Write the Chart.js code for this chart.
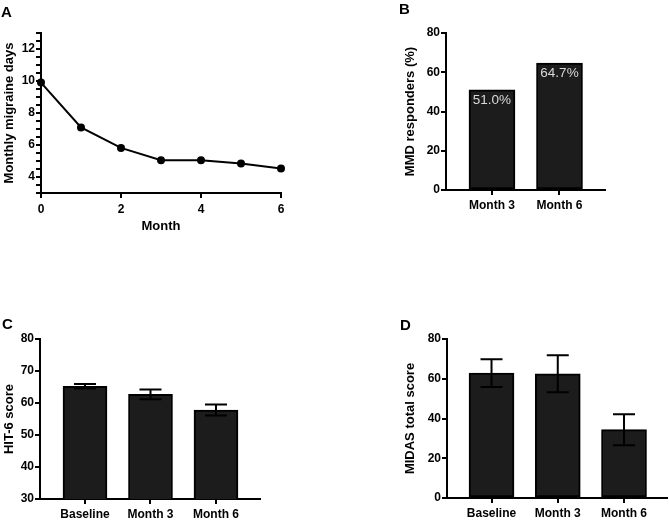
<!DOCTYPE html>
<html>
<head>
<meta charset="utf-8">
<script src="https://cdn.jsdelivr.net/npm/chart.js@4.4.1/dist/chart.umd.min.js"></script>
<style>
  body { margin: 0; background: #fff; }
  #wrap { position: relative; width: 669px; height: 523px; overflow: hidden; }
  canvas { position: absolute; left: 0; top: 0; }
  .tag { position: absolute; font: bold 15px 'Liberation Sans', Arial, sans-serif; line-height: 15px; color: #000; }
</style>
</head>
<body>
<div id="wrap">
  <canvas id="chartA" width="669" height="523"></canvas>
  <canvas id="chartB" width="669" height="523"></canvas>
  <canvas id="chartC" width="669" height="523"></canvas>
  <canvas id="chartD" width="669" height="523"></canvas>
  <div class="tag" style="left:1px;top:4px">A</div>
  <div class="tag" style="left:399px;top:1px">B</div>
  <div class="tag" style="left:2px;top:316px">C</div>
  <div class="tag" style="left:400px;top:317px">D</div>
</div>
<script>
// A - monthly migraine days
const months = [0, 1, 2, 3, 4, 5, 6];
const mmdValues = [9.9, 7.1, 5.82, 5.05, 5.05, 4.85, 4.53];
const aXTicks = [0, 2, 4, 6];
const aYTicks = [4, 6, 8, 10, 12];

// B - responders
const respCategories = ['Month 3', 'Month 6'];
const respValues = [51.0, 64.7];
const respTicks = [0, 20, 40, 60, 80];

// C - HIT-6
const hitCategories = ['Baseline', 'Month 3', 'Month 6'];
const hitValues = [65.2, 62.7, 57.8];
const hitErrors = [0.7, 1.5, 1.7];
const hitTicks = [30, 40, 50, 60, 70, 80];

// D - MIDAS
const midasCategories = ['Baseline', 'Month 3', 'Month 6'];
const midasValues = [62.8, 62.5, 34.4];
const midasErrors = [7.0, 9.3, 7.8];
const midasTicks = [0, 20, 40, 60, 80];

Chart.defaults.font.family = "'Liberation Sans', Arial, sans-serif";
Chart.defaults.font.size = 12;
Chart.defaults.font.weight = 'bold';
Chart.defaults.color = '#000';

const titleFont = { size: 13, weight: 'bold' };

function axisStyle() {
    return {
        grid: { display: true, drawOnChartArea: false, drawTicks: true, tickLength: 5, color: '#000', lineWidth: 2, offset: false },
        border: { display: true, color: '#000', width: 2 }
    };
}

function fixedTicks(values) {
    return function(scale) {
        scale.ticks = values.map(v => ({ value: v }));
    };
}

// error bars drawn from the dataset values through the y scale
const errorBarPlugin = {
    id: 'errorBars',
    afterDatasetsDraw(chart, args, opts) {
        if (!opts.errors) return;
        const ctx = chart.ctx;
        const y = chart.scales.y;
        const meta = chart.getDatasetMeta(0);
        const vals = chart.data.datasets[0].data;
        ctx.save();
        ctx.strokeStyle = '#000';
        ctx.lineWidth = 2;
        meta.data.forEach((bar, i) => {
            const v = vals[i].y;
            const e = opts.errors[i];
            const top = y.getPixelForValue(v + e);
            const bot = y.getPixelForValue(v - e);
            ctx.beginPath();
            ctx.moveTo(bar.x, top);
            ctx.lineTo(bar.x, bot);
            ctx.moveTo(bar.x - 11, top);
            ctx.lineTo(bar.x + 11, top);
            ctx.moveTo(bar.x - 11, bot);
            ctx.lineTo(bar.x + 11, bot);
            ctx.stroke();
        });
        ctx.restore();
    }
};

const valueLabelPlugin = {
    id: 'valueLabels',
    afterDatasetsDraw(chart, args, opts) {
        if (!opts.show) return;
        const ctx = chart.ctx;
        const meta = chart.getDatasetMeta(0);
        ctx.save();
        ctx.font = "13.5px 'Liberation Sans', Arial, sans-serif";
        ctx.fillStyle = '#d9d9d9';
        ctx.textAlign = 'center';
        ctx.textBaseline = 'top';
        meta.data.forEach((bar, i) => {
            ctx.fillText(respValues[i].toFixed(1) + '%', bar.x, bar.y + 4);
        });
        ctx.restore();
    }
};

Chart.register(errorBarPlugin, valueLabelPlugin);

// Panel A
new Chart(document.getElementById('chartA'), {
    type: 'line',
    data: {
        datasets: [{
            data: months.map((m, i) => ({ x: m, y: mmdValues[i] })),
            borderColor: '#000',
            backgroundColor: '#000',
            borderWidth: 2,
            pointRadius: 4,
            pointBorderWidth: 0,
            tension: 0,
            clip: false
        }]
    },
    options: {
        responsive: false,
        animation: false,
        events: [],
        layout: { padding: { left: 0, top: 33, right: 388, bottom: 285 } },
        plugins: { legend: { display: false }, tooltip: { enabled: false } },
        scales: {
            x: Object.assign(axisStyle(), {
                type: 'linear', min: 0, max: 6,
                afterBuildTicks: fixedTicks(aXTicks),
                ticks: { padding: 4, maxRotation: 0 },
                title: { display: true, text: 'Month', font: titleFont, padding: { top: 2, bottom: 4 } },
                afterFit: s => { s.height = 45; }
            }),
            y: Object.assign(axisStyle(), {
                min: 3, max: 13,
                ticks: {
                    stepSize: 0.5, autoSkip: false, padding: 1,
                    callback: v => aYTicks.includes(v) ? v : ''
                },
                title: { display: true, text: 'Monthly migraine days', font: titleFont, padding: { top: 2, bottom: 2 } },
                afterFit: s => { s.width = 41; }
            })
        }
    }
});

function barChart(id, cats, values, yTicks, yTitle, pad, yW, xH, xMin, xMax, thick, extra) {
    return new Chart(document.getElementById(id), {
        type: 'bar',
        data: {
            datasets: [{
                data: cats.map((c, i) => ({ x: i + 1, y: values[i] })),
                backgroundColor: '#1c1c1c',
                borderColor: '#000',
                borderWidth: 2,
                borderSkipped: false,
                barThickness: thick
            }]
        },
        options: {
            responsive: false,
            animation: false,
            events: [],
            layout: { padding: pad },
            plugins: Object.assign({ legend: { display: false }, tooltip: { enabled: false } }, extra),
            scales: {
                x: Object.assign(axisStyle(), {
                    type: 'linear', min: xMin, max: xMax, offset: false,
                    afterBuildTicks: fixedTicks(cats.map((c, i) => i + 1)),
                    ticks: { padding: 3, maxRotation: 0, autoSkip: false, callback: (v, i) => cats[i] },
                    afterFit: s => { s.height = xH; }
                }),
                y: Object.assign(axisStyle(), {
                    min: yTicks[0], max: yTicks[yTicks.length - 1],
                    afterBuildTicks: fixedTicks(yTicks),
                    ticks: { padding: 1 },
                    title: { display: true, text: yTitle, font: titleFont, padding: { top: 2, bottom: 2 } },
                    afterFit: s => { s.width = yW; }
                })
            }
        }
    });
}

barChart('chartB', respCategories, respValues, respTicks, 'MMD responders (%)',
    { left: 401, top: 33, right: 64, bottom: 303 }, 45, 30, 0.319, 2.674, 46,
    { valueLabels: { show: true } });

barChart('chartC', hitCategories, hitValues, hitTicks, 'HIT-6 score',
    { left: 0, top: 339, right: 409, bottom: 2 }, 40, 22, 0.313, 3.672, 44,
    { errorBars: { errors: hitErrors } });

barChart('chartD', midasCategories, midasValues, midasTicks, 'MIDAS total score',
    { left: 401, top: 339, right: 2, bottom: 3 }, 46, 22, 0.328, 3.649, 45,
    { errorBars: { errors: midasErrors } });
</script>
</body>
</html>
